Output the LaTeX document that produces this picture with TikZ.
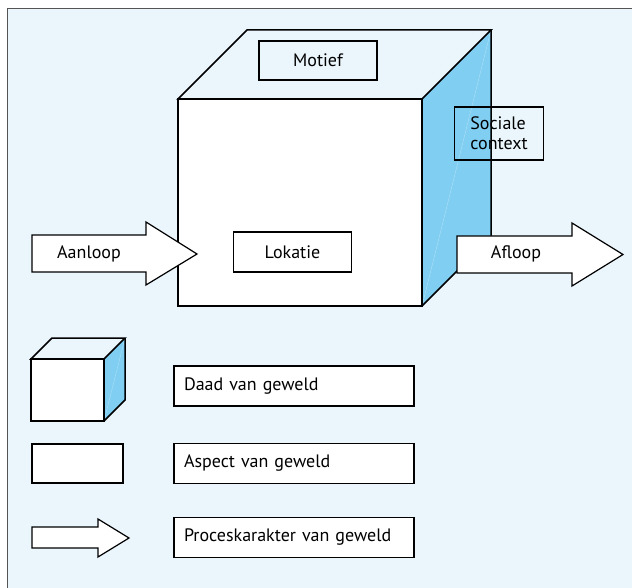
\documentclass[tikz,border=0pt]{standalone}
\usepackage{fontspec}
\setmainfont{PT Sans}
\definecolor{bg}{HTML}{EAF5FC}
\definecolor{side}{HTML}{80CEF2}
\definecolor{frame}{HTML}{555555}
\begin{document}
\begin{tikzpicture}[x=1pt,y=-1pt, line join=miter,
  edge/.style={draw=black, line width=1.5pt},
  seam/.style={draw=white, line width=0.4pt, opacity=0.35},
  box/.style={draw=black, line width=1.5pt, inner sep=0pt, font=\fontsize{18}{20}\selectfont},
  legbox/.style={box, fill=white, minimum width=240pt, minimum height=40pt, text width=220pt, align=left},
  arrowshape/.style={draw=black, line width=1.2pt, fill=white},
  txt/.style={font=\fontsize{18}{20}\selectfont, inner sep=0pt}]
\useasboundingbox (0,0) rectangle (632,588);
% background frame
\fill[bg] (7,9) rectangle (632,588);
\draw[frame, line width=1pt] (7,588) -- (7,9) -- (632,9);

% main cube
\coordinate (F1) at (178,99);
\coordinate (F2) at (422,99);
\coordinate (F3) at (422,306);
\coordinate (F4) at (178,306);
\coordinate (B1) at (247,30);
\coordinate (B2) at (491,30);
\coordinate (B3) at (491,237);
\fill[side] (F2) -- (B2) -- (B3) -- (F3) -- cycle;
\draw[seam] (F3) -- (B2);
\fill[white] (F1) rectangle (F3);
\draw[edge] (F1) -- (B1) -- (B2) -- (F2) -- cycle;
\draw[edge] (F1) rectangle (F3);
\draw[edge] (B2) -- (B3) -- (F3);

% aspect boxes on the cube
\node[box, minimum width=118pt, minimum height=39pt] (motief) at (318,60.5) {Motief};
\node[box, minimum width=89pt, minimum height=53pt, align=left] (sociaal) at (499,133.5) {Sociale\\context};
\node[box, fill=white, minimum width=118pt, minimum height=40pt] (lokatie) at (292.5,252) {Lokatie};

% process arrows
\draw[arrowshape] (32,235) -- (146,235) -- (146,222) -- (197,254) -- (146,285) -- (146,272) -- (32,272) -- cycle;
\node[txt] (aanloop) at (89,254) {Aanloop};
\draw[arrowshape] (457,236) -- (572,236) -- (572,223) -- (623,254.5) -- (572,286) -- (572,273) -- (457,273) -- cycle;
\node[txt] (afloop) at (516,254) {Afloop};

% legend: cube
\coordinate (f1) at (31,359);
\coordinate (f2) at (104,359);
\coordinate (f3) at (104,421);
\coordinate (b1) at (52,338);
\coordinate (b2) at (125,338);
\coordinate (b3) at (125,400);
\fill[side] (f2) -- (b2) -- (b3) -- (f3) -- cycle;
\draw[seam] (f3) -- (b2);
\fill[white] (f1) rectangle (f3);
\draw[edge] (f1) -- (b1) -- (b2) -- (f2) -- cycle;
\draw[edge] (f1) rectangle (f3);
\draw[edge] (b2) -- (b3) -- (f3);
% legend: rectangle
\draw[edge, fill=white] (32,444) rectangle (123,483);
% legend: arrow
\draw[arrowshape] (32,527) -- (98,527) -- (98,519) -- (129,538) -- (98,557) -- (98,548) -- (32,548) -- cycle;

% legend labels
\node[legbox] (daad) at (294,386) {Daad van geweld};
\node[legbox] (aspect) at (294,463.5) {Aspect van geweld};
\node[legbox] (proces) at (294,537.5) {Proceskarakter van geweld};
\end{tikzpicture}
\end{document}
